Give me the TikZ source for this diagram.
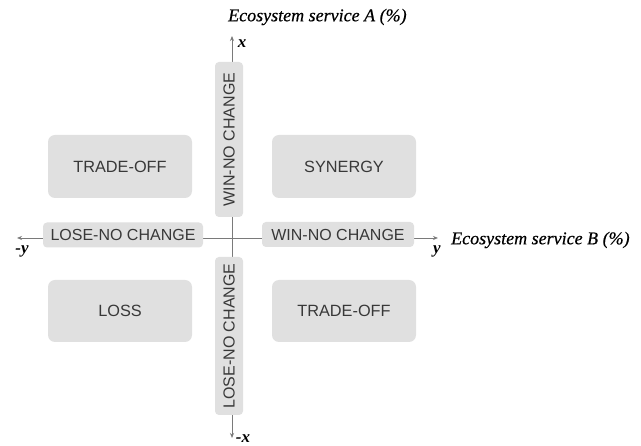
\documentclass[tikz,border=0pt]{standalone}
\usepackage{fontspec}
\setmainfont{Liberation Sans}
\newfontfamily\seriffam{Liberation Serif}
\newfontfamily\titlefam{Liberation Serif}[ItalicFeatures={FakeBold=0.5}]
\usetikzlibrary{arrows.meta}
\definecolor{boxfill}{HTML}{E0E0E0}
\definecolor{boxtext}{HTML}{383838}
\definecolor{axisgray}{HTML}{7A7A7A}
\begin{document}
\begin{tikzpicture}[x=1pt,y=-1pt,
  quad/.style={fill=boxfill, rounded corners=7pt, minimum width=144pt, minimum height=63pt,
    text=boxtext, font=\fontsize{16.3}{18}\selectfont, inner sep=0pt},
  bar/.style={fill=boxfill, rounded corners=4pt, text=boxtext,
    font=\fontsize{16}{18}\selectfont, inner sep=0pt},
  axis/.style={draw=axisgray, line width=0.9pt, -{Stealth[length=5pt,width=4pt]}},
  axlab/.style={font=\seriffam\bfseries\itshape\fontsize{17}{19}\selectfont, inner sep=0pt},
  ttl/.style={font=\titlefam\itshape\fontsize{18}{20}\selectfont, inner sep=0pt}]
\useasboundingbox (0,0) rectangle (641,446);
\fill[white] (0,0) rectangle (641,446);
% axes
\coordinate (o) at (232,238);
\coordinate (xt) at (232,36);
\coordinate (xb) at (232,438);
\coordinate (yr) at (438,238);
\coordinate (yl) at (17,238);
\draw[axis] (o) -- (xt);
\draw[axis] (o) -- (xb);
\draw[axis] (o) -- (yr);
\draw[axis] (o) -- (yl);
% quadrant boxes
\node[quad] (to1) at (120,166.5) {TRADE-OFF};
\node[quad] (syn) at (344,166.5) {SYNERGY};
\node[quad, minimum height=62pt] (loss) at (120,311) {LOSS};
\node[quad, minimum height=62pt] (to2) at (344,311) {TRADE-OFF};
% axis bars
\node[bar, minimum width=155pt, minimum height=28pt, rotate=90] (wnv) at (229,139.5) {WIN-NO CHANGE};
\node[bar, minimum width=158pt, minimum height=28pt, rotate=90] (lnv) at (229,336) {LOSE-NO CHANGE};
\node[bar, minimum width=160pt, minimum height=25pt] (lnh) at (123,235) {LOSE-NO CHANGE};
\node[bar, minimum width=152pt, minimum height=25pt] (wnh) at (338,234.5) {WIN-NO CHANGE};
% labels
\node[axlab] (lx) at (242,44) {x};
\node[axlab] (lmx) at (243,439) {-x};
\node[axlab] (ly) at (437,251) {y};
\node[axlab] (lmy) at (22,251) {-y};
\node[ttl, anchor=west] (ta) at (228,17) {Ecosystem service A (\%)};
\node[ttl, anchor=west] (tb) at (451,240) {Ecosystem service B (\%)};
\end{tikzpicture}
\end{document}
